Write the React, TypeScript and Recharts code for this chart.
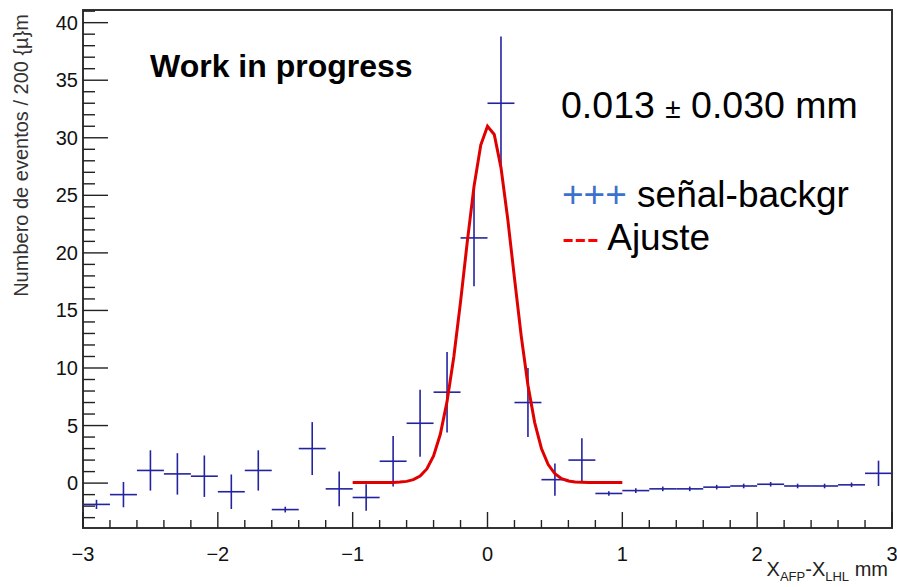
import {
	ComposedChart,
	XAxis,
	YAxis,
	Line,
	Scatter,
	ErrorBar,
	ReferenceArea,
} from 'recharts';

// Histogram bins (200 µm wide), centres in mm
const binCenters = [
	-2.9, -2.7, -2.5, -2.3, -2.1, -1.9, -1.7, -1.5, -1.3, -1.1, -0.9, -0.7, -0.5,
	-0.3, -0.1, 0.1, 0.3, 0.5, 0.7, 0.9, 1.1, 1.3, 1.5, 1.7, 1.9, 2.1, 2.3, 2.5,
	2.7, 2.9,
];
const binHalfWidth = 0.1;

// signal minus background, events per bin
const counts = [
	-1.85, -1.0, 1.1, 0.8, 0.6, -0.75, 1.1, -2.3, 3.0, -0.5, -1.25, 1.9, 5.2, 7.9,
	21.3, 33.0, 7.0, 0.3, 2.0, -0.9, -0.65, -0.5, -0.5, -0.35, -0.25, -0.1, -0.25,
	-0.25, -0.15, 0.85,
];
const countErrors = [
	0.4, 1.1, 1.75, 1.8, 1.8, 1.5, 1.75, 0.25, 2.3, 1.5, 1.15, 2.2, 2.9, 3.5, 4.2,
	5.8, 3.0, 1.4, 1.9, 0.2, 0.2, 0.2, 0.2, 0.2, 0.2, 0.2, 0.2, 0.2, 0.2, 1.1,
];

// gaussian fit, sampled over [-1, 1]
const fitX = [
	-1.0, -0.95, -0.9, -0.85, -0.8, -0.75, -0.7, -0.65, -0.6, -0.55, -0.5, -0.45,
	-0.4, -0.35, -0.3, -0.25, -0.2, -0.15, -0.1, -0.05, 0.0, 0.05, 0.1, 0.15, 0.2,
	0.25, 0.3, 0.35, 0.4, 0.45, 0.5, 0.55, 0.6, 0.65, 0.7, 0.75, 0.8, 0.85, 0.9,
	0.95, 1.0,
];
const fitY = [
	0.05, 0.05, 0.05, 0.05, 0.05, 0.05, 0.06, 0.09, 0.15, 0.3, 0.61, 1.23, 2.37,
	4.24, 7.08, 10.96, 15.74, 20.95, 25.78, 29.37, 31.0, 30.29, 27.41, 22.95, 17.81,
	12.79, 8.51, 5.26, 3.01, 1.61, 0.81, 0.39, 0.19, 0.1, 0.07, 0.05, 0.05, 0.05,
	0.05, 0.05, 0.05,
];

const yMin = -3.9;
const yMax = 41.1;
const yTicks = Array.from({ length: 45 }, (_, i) => i - 3);
const xTicks = Array.from({ length: 31 }, (_, i) => Math.round((i * 0.2 - 3) * 10) / 10);

const histData = binCenters.map((x, i) => ({
	x,
	y: counts[i],
	ex: binHalfWidth,
	ey: countErrors[i],
}));
const fitData = fitX.map((x, i) => ({ x, y: fitY[i] }));

const FONT = '"Liberation Sans", Arial, Helvetica, sans-serif';
const AXIS = '#222';
const HIST = '#2323a0';
const FIT = '#e00000';

const fmt = (v: number) => (v < 0 ? `\u2212${-v}` : `${v}`);

// ROOT-style ticks: drawn inwards, labels only on major ticks
const YTick = (props: any) => {
	const { x, y, payload } = props;
	const v = payload.value as number;
	const major = v % 5 === 0;
	return (
		<g>
			<line x1={x} x2={x + (major ? 25 : 12)} y1={y} y2={y} stroke={AXIS} strokeWidth={1.4} />
			{major && (
				<text x={x - 5} y={y + 7} textAnchor="end" fontSize={20} fill="#111" fontFamily={FONT}>
					{fmt(v)}
				</text>
			)}
		</g>
	);
};

const XTick = (props: any) => {
	const { x, y, payload } = props;
	const v = payload.value as number;
	const major = Math.abs(v - Math.round(v)) < 1e-6;
	return (
		<g>
			<line x1={x} x2={x} y1={y} y2={y - (major ? 16 : 8)} stroke={AXIS} strokeWidth={1.4} />
			{major && (
				<text x={x} y={y + 33} textAnchor="middle" fontSize={20} fill="#111" fontFamily={FONT}>
					{fmt(v)}
				</text>
			)}
		</g>
	);
};

const NoDot = () => <g />;

export default function App() {
	return (
		<div style={{ position: 'absolute', left: 0, top: 0, width: 897, height: 587, background: '#fff' }}>
			<ComposedChart
				width={897}
				height={587}
				margin={{ top: 10, right: 5, left: 8, bottom: 29 }}
			>
				<XAxis
					dataKey="x"
					type="number"
					domain={[-3, 3]}
					ticks={xTicks}
					interval={0}
					allowDataOverflow
					axisLine={false}
					tickSize={0}
					tickMargin={0}
					height={30}
					tick={<XTick />}
				/>
				<YAxis
					dataKey="y"
					type="number"
					domain={[yMin, yMax]}
					ticks={yTicks}
					interval={0}
					allowDataOverflow
					axisLine={false}
					tickSize={0}
					tickMargin={0}
					width={75}
					tick={<YTick />}
				/>
				<ReferenceArea
					x1={-3}
					x2={3}
					y1={yMin}
					y2={yMax}
					fill="none"
					stroke="#333"
					strokeWidth={2}
				/>
				<Scatter data={histData} shape={NoDot} isAnimationActive={false}>
					<ErrorBar dataKey="ex" direction="x" width={0} stroke={HIST} strokeWidth={1.6} />
					<ErrorBar dataKey="ey" direction="y" width={0} stroke={HIST} strokeWidth={1.6} />
				</Scatter>
				<Line
					data={fitData}
					dataKey="y"
					type="linear"
					stroke={FIT}
					strokeWidth={3}
					dot={false}
					activeDot={false}
					isAnimationActive={false}
				/>
			</ComposedChart>
			<svg
				width={897}
				height={587}
				style={{ position: 'absolute', left: 0, top: 0, pointerEvents: 'none' }}
				fontFamily={FONT}
			>
				<text transform="translate(28,14) rotate(-90)" textAnchor="end" fontSize={20} fill="#333">
					Numbero de eventos / 200 {'{\u00b5}'}m
				</text>
				<text x={888} y={576} textAnchor="end" fontSize={20} fill="#222">
					X<tspan fontSize={13} dy={5}>AFP</tspan>
					<tspan dy={-5}>-X</tspan>
					<tspan fontSize={13} dy={5}>LHL</tspan>
					<tspan dy={-5}> mm</tspan>
				</text>
				<text x={150} y={77} fontSize={32} fontWeight="bold" fill="#000">
					Work in progress
				</text>
				<text x={561} y={118} fontSize={37.5} fill="#000">
					0.013 <tspan fontSize={28}>±</tspan> 0.030 mm
				</text>
				<text x={562} y={207} fontSize={37} fill="#000">
					<tspan fill="#3d72cc">+++</tspan> señal-backgr
				</text>
				<text x={562} y={250} fontSize={37} fill="#000">
					<tspan fill="#ff0000">---</tspan> Ajuste
				</text>
			</svg>
		</div>
	);
}
